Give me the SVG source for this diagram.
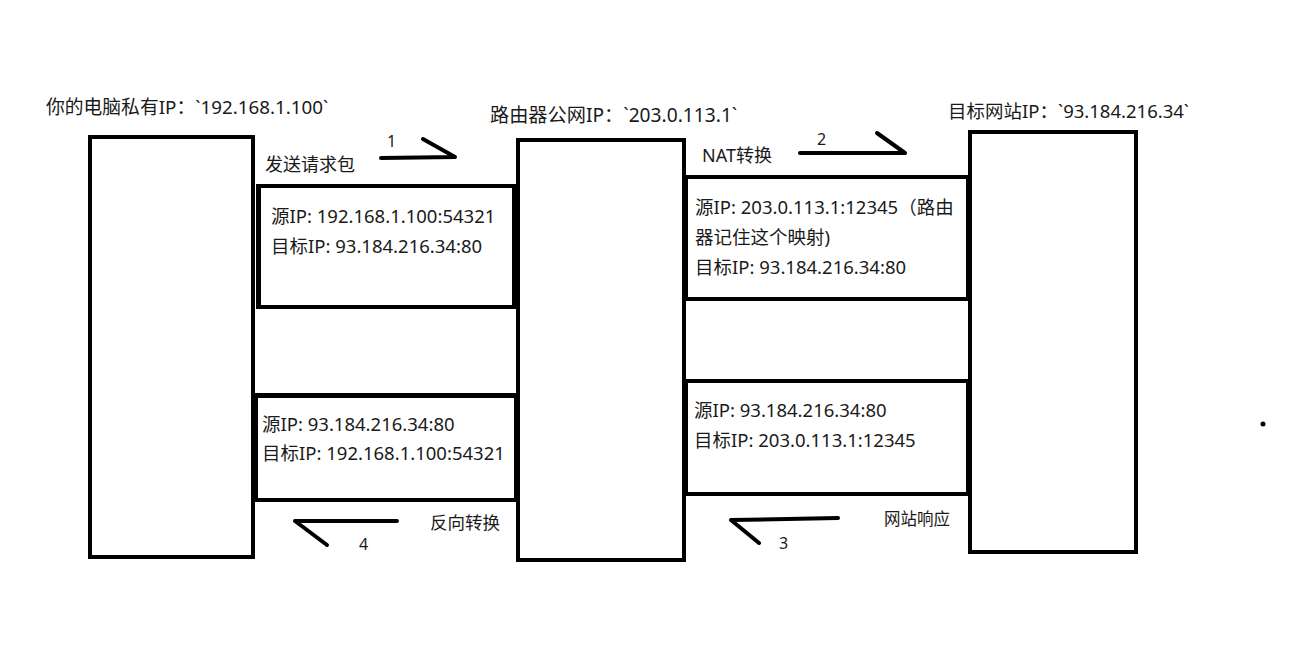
<svg xmlns="http://www.w3.org/2000/svg" width="1302" height="648" viewBox="0 0 1302 648">
<style>
.box{fill:none;stroke:#000;stroke-width:4}
.ln{stroke:#000;stroke-width:4;fill:none}
.arr{stroke:#000;stroke-width:4;fill:none;stroke-linecap:round;stroke-linejoin:round}
text{font-family:"Noto Sans","Noto Sans CJK SC",sans-serif;fill:#1a1a1a}
.t{font-size:18px}
.h{font-size:18.8px}
.p{font-size:18.5px}
.n{font-size:16px}
</style>
<rect width="1302" height="648" fill="#fff"/>
<g id="computer">
<rect class="box" x="90" y="137" width="163" height="420"/>
<text class="h" x="46" y="114">你的电脑私有IP：`192.168.1.100`</text>
</g>
<g id="router">
<rect class="box" x="518" y="140" width="166" height="420"/>
<text class="h" x="490" y="122" style="font-size:19.2px">路由器公网IP：`203.0.113.1`</text>
</g>
<g id="website">
<rect class="box" x="970" y="132" width="166" height="420"/>
<text class="h" x="948" y="118" style="font-size:18.5px">目标网站IP：`93.184.216.34`</text>
</g>
<g id="packet1">
<rect class="box" x="258" y="186" width="256" height="121"/>
<line class="ln" x1="259" y1="186" x2="259" y2="307" stroke-width="6"/>
<text class="p" x="271" y="223">源IP: 192.168.1.100:54321</text>
<text class="p" x="271" y="253">目标IP: 93.184.216.34:80</text>
</g>
<g id="gap-left">
<line class="ln" x1="254" y1="395" x2="518" y2="395"/>
</g>
<g id="packet4">
<rect class="box" x="256" y="396" width="260" height="104"/>
<text class="p" x="262" y="431">源IP: 93.184.216.34:80</text>
<text class="p" x="262" y="460">目标IP: 192.168.1.100:54321</text>
</g>
<g id="packet2">
<rect class="box" x="686" y="177" width="282" height="122"/>
<text class="p" x="695" y="214">源IP: 203.0.113.1:12345（路由</text>
<text class="p" x="695" y="244">器记住这个映射)</text>
<text class="p" x="695" y="274">目标IP: 93.184.216.34:80</text>
</g>
<g id="packet3">
<rect class="box" x="686" y="381" width="282" height="113"/>
<text class="p" x="694" y="417">源IP: 93.184.216.34:80</text>
<text class="p" x="694" y="447">目标IP: 203.0.113.1:12345</text>
</g>
<g id="labels">
<text class="t" x="265" y="171">发送请求包</text>
<text class="n" x="387" y="147">1</text>
<text class="t" x="702" y="162">NAT转换</text>
<text class="n" x="817" y="145">2</text>
<text class="t" x="884" y="525" style="font-size:16.5px">网站响应</text>
<text class="n" x="779" y="549">3</text>
<text class="t" x="430" y="529" style="font-size:17.5px">反向转换</text>
<text class="n" x="359" y="550">4</text>
</g>
<g id="connectors">
<path class="arr" d="M381 158 L455 157 M423 139 L455 157"/>
<path class="arr" d="M800 153 L905 153 M877 133 L905 153"/>
<path class="arr" d="M838 518 L731 520 M731 520 L759 543"/>
<path class="arr" d="M397 521 L295 521 M295 521 L327 545"/>
</g>
<circle cx="1263" cy="424" r="2.5" fill="#000"/>
</svg>
